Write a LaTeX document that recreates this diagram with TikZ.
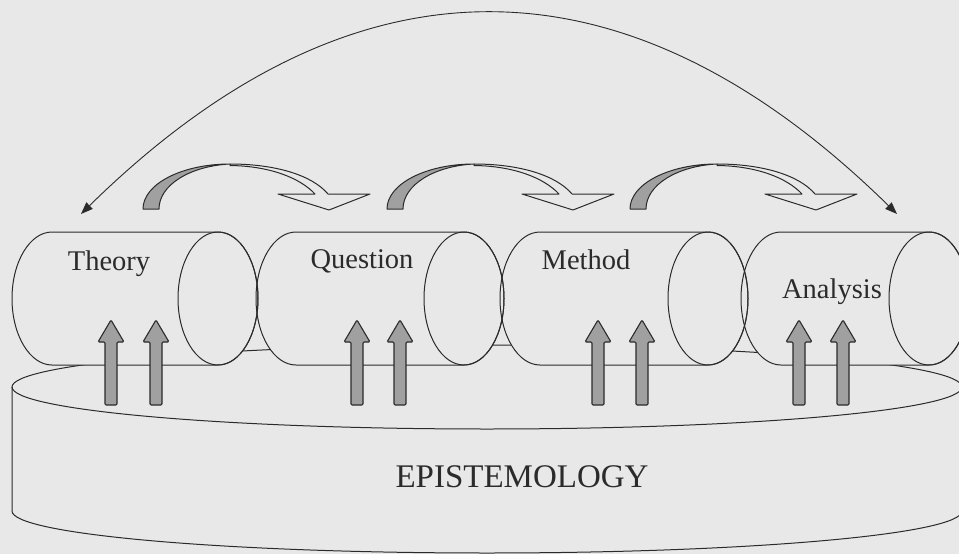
\documentclass[tikz,border=0pt]{standalone}
\usepackage{fontspec}
\setmainfont{Liberation Serif}
\usetikzlibrary{arrows.meta}
\definecolor{ink}{HTML}{2B2B2B}
\definecolor{paper}{HTML}{E8E8E8}
\definecolor{shade}{HTML}{A0A0A0}

\begin{document}
\begin{tikzpicture}[x=1pt,y=-1pt,
  lbl/.style={font=\fontsize{28.5}{32}\selectfont,text=ink,anchor=base,inner sep=0pt},
  outline/.style={draw=ink,line width=1pt},
  uparr/.style={draw=ink,fill=shade,line width=1.1pt,rounded corners=1.2pt},
  hollow/.style={draw=ink,fill=paper,line width=1pt,line join=round}]
\useasboundingbox (0,0) rectangle (959,554);
\fill[paper] (0,0) rectangle (959,554);
\draw[outline,fill=paper] (12,387) -- (12,511) arc[start angle=180,end angle=360,x radius=475pt,y radius=42pt] -- (962,387);
\draw[outline] (487,387) ellipse [x radius=475pt,y radius=42pt];
\foreach \cl/\cr in {52/218,296/464,540/708,781/929}{
  \fill[paper] (\cl,232) -- (\cr,232) arc[start angle=90,end angle=-90,x radius=40pt,y radius=66.5pt]
    -- (\cl,365) arc[start angle=270,end angle=90,x radius=40pt,y radius=66.5pt] -- cycle;
}
\foreach \cl/\cr in {52/218,296/464,540/708,781/929}{
  \draw[outline] (\cl,232) -- (\cr,232) arc[start angle=90,end angle=-90,x radius=40pt,y radius=66.5pt]
    -- (\cl,365) arc[start angle=270,end angle=90,x radius=40pt,y radius=66.5pt] -- cycle;
  \draw[outline] (\cr,298.5) ellipse [x radius=40pt,y radius=66.5pt];
}
\node[lbl] (theory) at (109,270) {Theory};
\node[lbl] (question) at (362,268) {Question};
\node[lbl] (method) at (586,269) {Method};
\node[lbl] (analysis) at (832,298) {Analysis};
\node[lbl,font=\fontsize{33}{36}\selectfont] (episte) at (522,487) {EPISTEMOLOGY};
\foreach \xx in {111,156,357,400,598,642,799,843}
  \draw[uparr] ({\xx-6},405) -- ({\xx-6},342) -- ({\xx-13},342) -- (\xx,320) -- ({\xx+13},342)
    -- ({\xx+6},342) -- ({\xx+6},405) -- cycle;
\foreach \dx in {0,244,487}{
  \draw[hollow,xshift=\dx pt] (230,164) .. controls (275,164) and (312,175) .. (328,194) -- (370,194)
    -- (329,210) -- (278,194) -- (315,194) .. controls (300,178) and (270,166) .. (230,165.5) -- cycle;
  \draw[outline,fill=shade,line join=round,xshift=\dx pt] (143,209) .. controls (143,184) and (182,164) .. (230,164)
    .. controls (190,166) and (159,185) .. (159,209) -- cycle;
}
\coordinate (thtip) at (81,214);
\coordinate (antip) at (897,214);
\draw[ink,line width=0.9pt,{Triangle[length=12pt,width=9pt]}-{Triangle[length=12pt,width=9pt]}]
  (thtip) .. controls (353,-53) and (625,-53) .. (antip);
\end{tikzpicture}
\end{document}
